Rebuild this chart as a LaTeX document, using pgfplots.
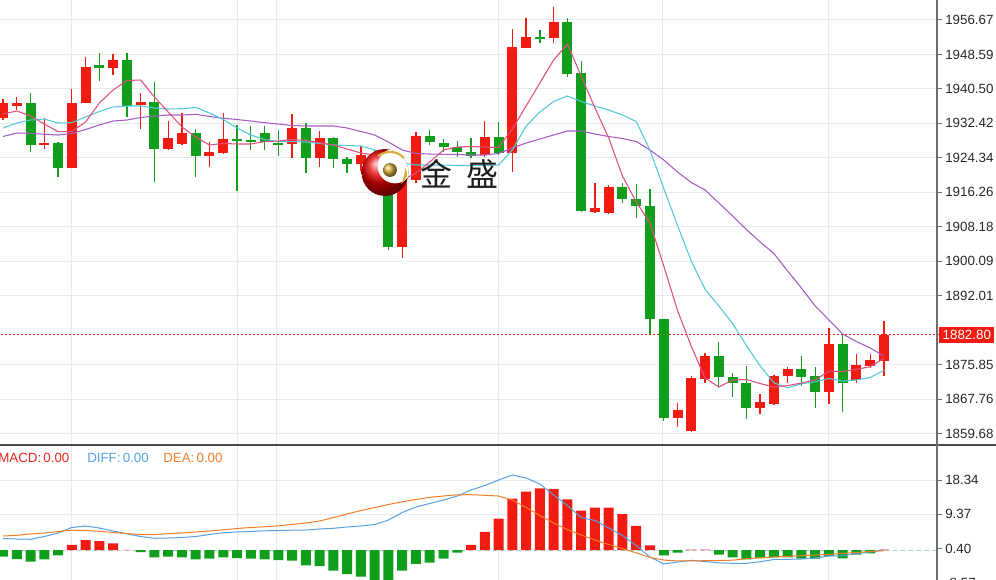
\documentclass[border=0pt]{standalone}
\usepackage{pgfplots}
\pgfplotsset{compat=1.18}
\usepackage{pgfplotstable}
\usepackage{fontspec}
\setmainfont{Liberation Sans}
\newfontfamily\cjk{Noto Sans CJK SC}
\definecolor{cred}{RGB}{240,28,18}
\definecolor{cgreen}{RGB}{16,158,28}
\definecolor{cma5}{RGB}{226,78,128}
\definecolor{cma10}{RGB}{84,200,214}
\definecolor{cma20}{RGB}{165,92,196}
\definecolor{gridc}{RGB}{229,233,241}
\definecolor{tickc}{RGB}{110,110,110}
\definecolor{labc}{RGB}{40,40,40}
\definecolor{macdc}{RGB}{232,40,30}
\definecolor{diffc}{RGB}{86,160,228}
\definecolor{deac}{RGB}{240,126,40}
\definecolor{zeroc}{RGB}{170,205,215}
\definecolor{goldc}{RGB}{215,175,60}

\pgfplotstableread{
i o h l c
0 1933.61 1938.06 1933.21 1937.27
1 1936.49 1938.67 1935.55 1937.13
3 1927.27 1933.61 1926.33 1927.74
5 1922.02 1940.41 1921.88 1937.13
6 1937.27 1947.92 1937.20 1945.71
8 1945.34 1948.62 1943.77 1947.28
10 1936.66 1939.47 1931.03 1937.43
12 1926.33 1932.97 1926.20 1929.06
13 1927.58 1934.85 1927.46 1930.09
15 1924.76 1928.12 1922.11 1925.63
16 1925.40 1934.92 1925.23 1928.68
21 1927.51 1934.55 1924.36 1931.26
23 1924.36 1930.63 1922.11 1928.92
26 1922.89 1927.18 1921.31 1925.00
29 1903.48 1920.31 1900.76 1919.53
30 1919.13 1930.46 1918.50 1929.45
35 1925.00 1933.04 1924.60 1929.15
37 1925.40 1954.49 1921.08 1950.26
38 1950.17 1957.07 1950.00 1952.75
40 1952.52 1959.65 1951.20 1956.27
43 1911.70 1918.50 1911.32 1912.49
44 1911.32 1917.96 1911.27 1917.56
49 1863.23 1866.89 1861.26 1865.17
50 1860.25 1873.15 1860.10 1872.61
51 1872.38 1878.48 1871.58 1877.84
55 1865.57 1868.86 1864.17 1867.12
56 1866.58 1873.39 1866.46 1873.22
57 1873.15 1875.33 1871.44 1874.72
60 1869.47 1884.34 1866.58 1880.59
62 1872.21 1878.31 1871.44 1875.73
63 1875.57 1878.31 1874.96 1876.90
64 1876.74 1886.12 1873.15 1882.80
}\redtab

\pgfplotstableread{
i o h l c
2 1937.27 1939.47 1925.77 1927.27
4 1927.74 1928.12 1919.91 1922.02
7 1946.11 1949.00 1942.43 1945.34
9 1947.28 1948.86 1933.98 1936.56
11 1937.50 1942.19 1918.73 1926.40
14 1930.09 1931.03 1919.91 1924.76
17 1928.68 1932.04 1916.62 1928.28
18 1928.52 1931.80 1926.17 1928.21
19 1930.09 1931.80 1926.17 1928.12
20 1927.88 1930.86 1924.76 1927.27
22 1931.26 1932.43 1920.70 1924.36
24 1928.92 1929.29 1921.88 1924.06
25 1924.06 1924.60 1920.85 1922.82
27 1925.23 1926.17 1923.82 1924.76
28 1924.76 1925.70 1902.71 1903.48
31 1929.45 1930.86 1927.34 1928.12
32 1927.74 1928.68 1925.77 1926.80
33 1926.94 1928.35 1924.60 1925.77
34 1925.77 1929.06 1924.22 1924.76
36 1929.15 1932.67 1925.00 1925.40
39 1952.61 1954.32 1951.34 1952.14
41 1956.27 1957.07 1943.37 1944.00
42 1944.16 1947.05 1911.74 1911.86
45 1917.56 1918.50 1913.81 1914.68
46 1914.68 1918.12 1910.15 1913.03
47 1913.03 1916.95 1882.93 1886.45
48 1886.52 1886.60 1862.66 1863.23
52 1877.84 1881.20 1870.50 1872.85
53 1872.99 1873.78 1868.15 1871.44
54 1871.44 1875.50 1862.99 1865.71
58 1874.72 1877.84 1870.80 1872.85
59 1873.15 1875.33 1865.57 1869.47
61 1880.66 1882.77 1864.78 1871.58
}\greentab

\pgfplotstableread{
i ma5 ma10 ma20
0 1934.62 1931.33 1929.34
1 1935.32 1932.50 1930.16
2 1934.15 1933.21 1930.09
3 1932.27 1933.44 1929.85
4 1930.46 1932.50 1929.69
5 1930.51 1932.58 1930.04
6 1932.74 1933.91 1930.98
7 1937.20 1935.20 1932.04
8 1940.25 1936.26 1932.97
9 1942.48 1936.49 1933.21
10 1942.59 1936.49 1933.79
11 1938.60 1936.02 1934.15
12 1935.09 1935.79 1934.38
13 1931.57 1935.86 1934.38
14 1929.22 1936.14 1934.55
15 1927.34 1934.85 1934.03
16 1927.70 1933.33 1933.61
17 1927.58 1931.33 1933.33
18 1927.58 1929.69 1932.97
19 1928.12 1928.63 1932.58
20 1928.28 1928.16 1932.27
21 1928.63 1928.16 1931.92
22 1928.40 1928.05 1931.80
23 1927.88 1927.70 1931.80
24 1927.34 1927.34 1931.80
25 1926.40 1927.23 1931.33
26 1925.47 1927.11 1930.51
27 1925.00 1926.17 1929.69
28 1920.07 1924.76 1928.05
29 1919.13 1923.12 1926.17
30 1920.77 1922.65 1925.35
31 1923.35 1922.65 1925.23
32 1926.17 1922.65 1925.16
33 1926.87 1922.53 1925.11
34 1926.99 1922.53 1925.00
35 1926.87 1922.53 1925.00
36 1926.76 1922.65 1925.35
37 1931.10 1926.17 1926.64
38 1936.49 1931.80 1927.81
39 1941.89 1935.09 1928.75
40 1947.28 1937.55 1929.69
41 1951.04 1938.84 1930.63
42 1943.53 1937.55 1930.63
43 1936.02 1936.49 1929.92
44 1928.99 1935.55 1929.34
45 1920.07 1934.38 1928.87
46 1913.97 1932.86 1928.16
47 1909.04 1926.12 1926.17
48 1898.96 1917.16 1923.82
49 1888.52 1908.48 1921.01
50 1880.10 1900.11 1918.55
51 1872.68 1893.49 1916.79
52 1870.57 1889.60 1913.74
53 1872.21 1885.49 1910.69
54 1872.33 1880.31 1907.52
55 1871.39 1875.54 1904.59
56 1870.57 1871.56 1901.89
57 1870.92 1870.38 1897.78
58 1871.51 1871.34 1893.80
59 1872.21 1871.79 1889.57
60 1874.32 1872.59 1886.29
61 1874.21 1871.95 1883.00
62 1874.72 1872.24 1881.24
63 1875.33 1872.80 1879.72
64 1877.30 1874.49 1877.84
}\matab

\pgfplotstableread{
i m diff dea
0 -1.76 3.03 3.68
1 -2.37 2.89 3.87
2 -3.08 2.82 4.21
3 -2.45 3.55 4.47
4 -1.39 4.47 4.87
5 1.32 5.92 5.21
6 2.63 6.32 5.13
7 2.37 5.79 4.92
8 1.76 5.00 4.61
9 0.05 4.26 4.34
10 -0.53 3.55 4.08
11 -1.92 3.08 4.08
12 -1.76 3.16 4.29
13 -1.92 3.29 4.47
14 -2.45 3.55 4.74
15 -2.29 4.08 5.00
16 -1.92 4.55 5.32
17 -2.11 4.74 5.66
18 -2.29 4.87 5.92
19 -2.45 5.05 6.13
20 -2.63 5.13 6.37
21 -2.82 5.21 6.71
22 -4.03 5.26 7.11
23 -4.21 5.53 7.63
24 -5.45 5.71 8.55
25 -6.32 6.05 9.47
26 -7.03 6.32 10.39
27 -8.20 6.71 11.18
28 -8.50 7.89 11.97
29 -5.45 9.87 12.68
30 -3.68 11.32 13.29
31 -3.34 12.24 13.87
32 -2.29 13.16 14.21
33 -0.71 14.21 14.53
34 1.32 15.79 14.55
35 4.74 16.97 14.39
36 8.24 18.42 14.21
37 13.50 19.74 13.16
38 15.34 18.95 11.18
39 16.24 17.37 9.08
40 16.05 14.47 7.11
41 13.34 11.71 5.39
42 10.34 8.55 3.95
43 11.13 7.76 2.63
44 11.13 5.79 1.45
45 9.47 3.82 0.39
46 6.32 1.18 -0.74
47 1.24 -1.84 -1.97
48 -1.39 -3.68 -2.63
49 -0.71 -3.16 -2.89
50 0.10 -2.71 -2.84
51 0.10 -3.03 -2.82
52 -1.24 -3.37 -2.76
53 -1.92 -3.50 -2.68
54 -2.45 -3.50 -2.29
55 -2.11 -3.08 -2.05
56 -1.92 -2.50 -1.84
57 -1.92 -2.45 -1.66
58 -2.29 -2.37 -1.50
59 -2.29 -2.11 -1.32
60 -1.58 -1.58 -1.18
61 -2.18 -1.50 -0.87
62 -1.24 -0.92 -0.66
63 -0.87 -0.53 -0.39
64 0.10 0.00 -0.18
}\macdtab

\begin{document}
\begin{tikzpicture}
\pgfplotsset{
  kbase/.style={
    scale only axis, width=702.75pt,
    xmin=-0.2179, xmax=67.849,
    axis line style={draw=none},
    xtick={4.94,17.0,19.9,35.96,47.94,60.0}, xticklabels={}, xmajorgrids,
    x tick style={draw=none},
    ymajorgrids,
    major grid style={draw=gridc, line width=0.75pt},
    ytick pos=right, yticklabel pos=right,
    tick align=outside, major tick length=3.75pt,
    y tick style={draw=tickc, line width=0.75pt},
    yticklabel style={font=\fontsize{10}{12}\selectfont, text=labc, anchor=west, inner sep=0pt, xshift=2.25pt},
  },
  wick/.style={draw=none, mark=none, forget plot,
    error bars/.cd, y dir=both, y explicit, error mark=none,
    error bar style={draw=#1, solid, line width=1pt}},
  body/.style={draw=none, mark=none, forget plot,
    error bars/.cd, y dir=both, y explicit, error mark=none,
    error bar style={draw=#1, solid, line width=7.5pt}},
}
\begin{axis}[kbase, at={(0pt,0pt)}, anchor=north west, height=333.75pt,
  ymin=1856.97, ymax=1961.36,
  ytick={1859.68,1867.76,1875.85,1892.01,1900.09,1908.18,1916.26,1924.34,1932.42,1940.50,1948.59,1956.67},
  yticklabels={1859.68,1867.76,1875.85,1892.01,1900.09,1908.18,1916.26,1924.34,1932.42,1940.50,1948.59,1956.67},
  extra y ticks={1882.80}, extra y tick labels={1882.80},
  extra y tick style={grid=none, yticklabel style={fill=cred, text=white, inner xsep=2.6pt, inner ysep=2.6pt, xshift=-4.5pt}},
]
\addplot[cred, line width=0.8pt, dash pattern=on 1.5pt off 1.5pt] coordinates {(-1,1882.80) (70,1882.80)};
\addplot[wick=cred] table[x=i, y expr={(\thisrow{h}+\thisrow{l})/2}, y error expr={(\thisrow{h}-\thisrow{l})/2}] {\redtab};
\addplot[wick=cgreen] table[x=i, y expr={(\thisrow{h}+\thisrow{l})/2}, y error expr={(\thisrow{h}-\thisrow{l})/2}] {\greentab};
\addplot[body=cred] table[x=i, y expr={(\thisrow{o}+\thisrow{c})/2}, y error expr={abs(\thisrow{c}-\thisrow{o})/2}] {\redtab};
\addplot[body=cgreen] table[x=i, y expr={(\thisrow{o}+\thisrow{c})/2}, y error expr={abs(\thisrow{c}-\thisrow{o})/2}] {\greentab};
\addplot[cma20, line width=0.8pt] table[x=i, y=ma20] {\matab};
\addplot[cma10, line width=0.8pt] table[x=i, y=ma10] {\matab};
\addplot[cma5, line width=0.8pt] table[x=i, y=ma5] {\matab};
\end{axis}

\begin{axis}[kbase, at={(0pt,-333.75pt)}, anchor=north west, height=101.25pt,
  ymin=-7.89, ymax=27.63,
  ytick={9.37,18.34}, yticklabels={9.37,18.34},
  extra y ticks={0.40}, extra y tick labels={0.40},
  extra y tick style={grid=none},
]
\addplot[zeroc, line width=0.75pt, dash pattern=on 3pt off 3pt] coordinates {(-1,0) (70,0)};
\addplot[ybar, bar width=7.5pt, bar shift=0pt, fill=cred, draw=none, restrict y to domain=0.001:100] table[x=i, y=m] {\macdtab};
\addplot[ybar, bar width=7.5pt, bar shift=0pt, fill=cgreen, draw=none, restrict y to domain=-100:-0.001] table[x=i, y=m] {\macdtab};
\addplot[diffc, line width=0.75pt] table[x=i, y=diff] {\macdtab};
\addplot[deac, line width=0.75pt] table[x=i, y=dea] {\macdtab};
\end{axis}

\begin{scope}[x=0.75pt, y=-0.75pt]
  % logo
  \shade[ball color=red!90!black] (385,172.5) circle[radius=17.6pt];
  \begin{scope}
    \clip (385,172.5) circle[radius=17.6pt];
    \fill[white] (395,166) circle[radius=13pt];
  \end{scope}
  \draw[goldc, line width=1.6pt] (378,156) .. controls (386,150) and (398,151) .. (404,158);
  \fill[goldc] (405,168) .. controls (409,172) and (407,180) .. (401,184) .. controls (404,178) and (405,173) .. (405,168);
  \shade[ball color=goldc] (390,170) circle[radius=5.2pt];
  \node[font=\cjk\fontsize{24}{24}\selectfont, text=black!88, inner sep=0pt] at (436.5,174) {金};
  \node[font=\cjk\fontsize{24}{24}\selectfont, text=black!88, inner sep=0pt] at (482.5,174) {盛};
  % frame lines
  \draw[black!70, line width=0.9pt] (0,445) -- (996,445);
  \draw[tickc, line width=1.3pt] (937,0) -- (937,580);
  % MACD legend
  \node[anchor=west, inner sep=0pt, text=macdc, font=\fontsize{10}{12}\selectfont] at (-2,458) {MACD:\,0.00};
  \node[anchor=west, inner sep=0pt, text=diffc, font=\fontsize{10}{12}\selectfont] at (87,458) {DIFF:\,0.00};
  \node[anchor=west, inner sep=0pt, text=deac, font=\fontsize{10}{12}\selectfont] at (163,458) {DEA:\,0.00};
  % lowest tick label, cut by the lower edge as in the reference
  \draw[tickc, line width=0.75pt] (937,582.6) -- (942,582.6);
  \node[anchor=west, inner sep=0pt, text=labc, font=\fontsize{10}{12}\selectfont] at (945,582.6) {-8.57};
\end{scope}
\pgfresetboundingbox
\useasboundingbox (0pt,0pt) rectangle (747pt,-435pt);
\end{tikzpicture}
\end{document}
